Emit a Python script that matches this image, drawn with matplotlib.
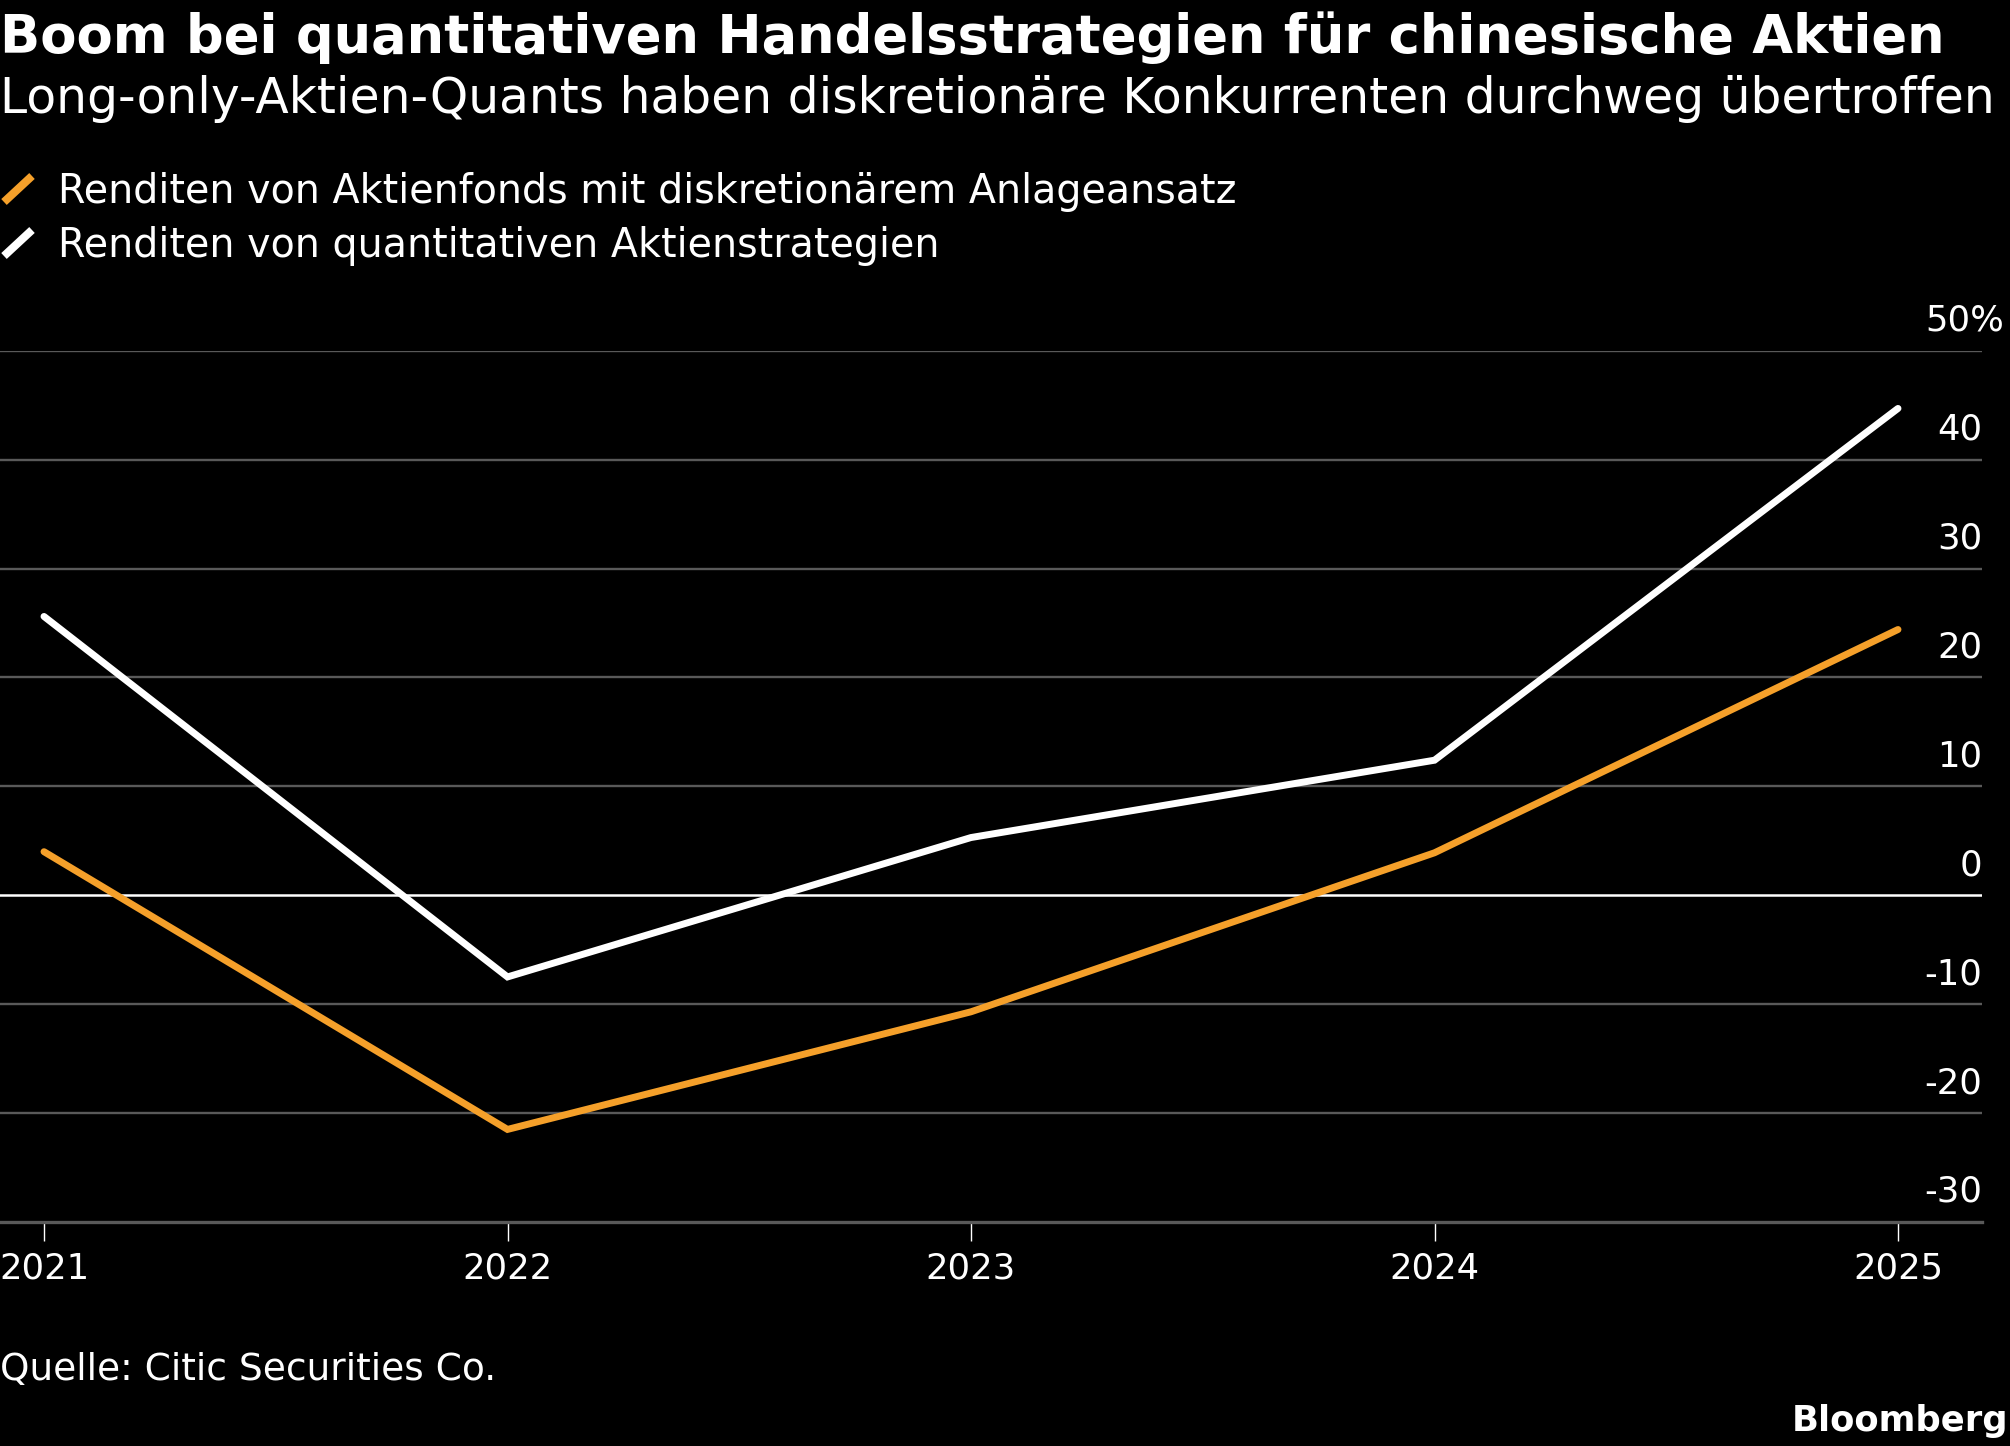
import matplotlib
matplotlib.use("Agg")
import matplotlib.pyplot as plt
import matplotlib.transforms as mtransforms
from matplotlib.lines import Line2D

# ---- data ----
years = [2021, 2022, 2023, 2024, 2025]
discretionary = [4.0, -21.5, -10.7, 3.9, 24.4]
quant = [25.6, -7.5, 5.3, 12.4, 44.7]
yticks = [50, 40, 30, 20, 10, 0, -10, -20, -30]
ytick_labels = ["50%", "40", "30", "20", "10", "0", "-10", "-20", "-30"]
xtick_labels = ["2021", "2022", "2023", "2024", "2025"]
series_names = ["Renditen von Aktienfonds mit diskretionärem Anlageansatz",
                "Renditen von quantitativen Aktienstrategien"]
title = "Boom bei quantitativen Handelsstrategien für chinesische Aktien"
subtitle = "Long-only-Aktien-Quants haben diskretionäre Konkurrenten durchweg übertroffen"
source = "Quelle: Citic Securities Co."

ORANGE = "#F5A02A"
WHITE = "#FFFFFF"
GRID = "#595959"
BG = "#000000"

plt.rcParams['font.family'] = ['DejaVu Sans']

W, H = 2010, 1446
fig = plt.figure(figsize=(W / 100, H / 100), dpi=100, facecolor=BG)

def fx(px):
    return px / W

def fy(py):
    return 1 - py / H

ax_left, ax_right = 0, 1982
ax_top, ax_bottom = 350.7, 1222
ax = fig.add_axes([fx(ax_left), fy(ax_bottom), fx(ax_right - ax_left),
                   (ax_bottom - ax_top) / H])
ax.set_facecolor(BG)

ppy = (1898 - 44) / 4.0
ax.set_xlim(2021 - 44 / ppy, 2021 + (1982 - 44) / ppy)
ax.set_ylim(-30, 50)

# grid
for v in yticks:
    if v == 0:
        ax.axhline(v, color=WHITE, lw=1.8, zorder=2)
    elif v == -30:
        continue
    else:
        ax.axhline(v, color=GRID, lw=1.7, zorder=1)

for s in ['top', 'left', 'right']:
    ax.spines[s].set_visible(False)
ax.spines['bottom'].set_color(GRID)
ax.spines['bottom'].set_linewidth(2.4)

ax.plot(years, discretionary, color=ORANGE, lw=5.0, solid_capstyle='round',
        solid_joinstyle='miter', zorder=4, clip_on=False)
ax.plot(years, quant, color=WHITE, lw=5.0, solid_capstyle='round',
        solid_joinstyle='miter', zorder=5, clip_on=False)

ax.set_xticks(years)
ax.set_xticklabels(xtick_labels)
ax.tick_params(axis='x', direction='out', length=14, width=1.0, color=WHITE,
               labelcolor=WHITE, labelsize=25.5, pad=7)
ax.set_yticks([])

trans = mtransforms.blended_transform_factory(ax.transAxes, ax.transData)
trans_up = mtransforms.offset_copy(trans, fig=fig, x=0, y=20, units='dots')
for v, lab in zip(yticks, ytick_labels):
    xpos = 1.0 if '%' not in lab else 2004 / 1982
    ax.text(xpos, v, lab, transform=trans_up, ha='right', va='baseline',
            color=WHITE, fontsize=25.5, clip_on=False)

# titles
fig.text(0, fy(53), title, color=WHITE, fontsize=38.0, fontweight='bold',
         ha='left', va='baseline')
fig.text(0, fy(113), subtitle, color=WHITE, fontsize=35.1,
         ha='left', va='baseline')

# legend
leg_y = [203, 257]
colors = [ORANGE, WHITE]
for name, c, by in zip(series_names, colors, leg_y):
    fig.add_artist(Line2D([fx(4), fx(32)], [fy(by - 1), fy(by - 27)],
                          color=c, lw=5.8, solid_capstyle='butt',
                          transform=fig.transFigure))
    fig.text(fx(58), fy(by), name, color=WHITE, fontsize=28.5,
             ha='left', va='baseline')

# footer
fig.text(0, fy(1380), source, color=WHITE, fontsize=27.0, ha='left', va='baseline')
fig.text(fx(2008), fy(1431), "Bloomberg", color=WHITE, fontsize=25.5,
         fontweight='bold', ha='right', va='baseline')

fig.savefig("out.png", dpi=100, facecolor=BG)
